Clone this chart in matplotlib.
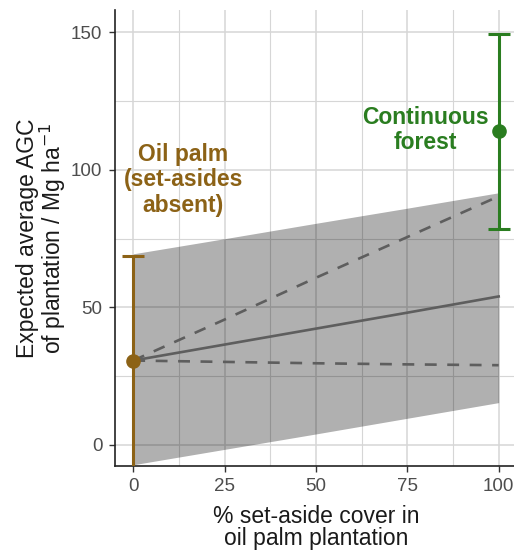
import numpy as np
import matplotlib
matplotlib.use("Agg")
import matplotlib.pyplot as plt
from matplotlib.ticker import MultipleLocator

plt.rcParams['font.family'] = ['Liberation Sans', 'DejaVu Sans']

# set-aside cover (%) and model predictions
setaside = [0, 25, 50, 75, 100]
pred_mean = [30.7, 36.5, 42.3, 48.1, 54.0]
pred_upper = [30.7, 45.6, 60.8, 75.6, 90.4]
pred_lower = [30.7, 30.2, 29.7, 29.3, 29.0]
ribbon_hi = [69.5, 75.0, 80.6, 86.1, 91.7]
ribbon_lo = [-7.2, -1.6, 4.0, 9.7, 15.4]

# reference points
palm_x, palm_y, palm_lo, palm_hi = 0, 30.7, -12, 68.8
forest_x, forest_y, forest_lo, forest_hi = 100, 114.2, 78.7, 149.5

brown = '#8C6216'
green = '#2A7D20'
grey_line = '#5E5E5E'

fig = plt.figure(figsize=(5.14, 5.5), dpi=100)
ax = fig.add_axes([0.2237, 0.153, 0.782, 0.829])

ax.fill_between(setaside, ribbon_lo, ribbon_hi, color='black', alpha=0.31,
                linewidth=0, zorder=2)
ax.plot(setaside, pred_mean, color=grey_line, lw=1.9, zorder=3)
ax.plot(setaside, pred_upper, color=grey_line, lw=1.9, ls=(0, (4.5, 4)), zorder=3)
ax.plot(setaside, pred_lower, color=grey_line, lw=1.9, ls=(0, (4.5, 4)), zorder=3)

ax.errorbar([palm_x], [palm_y], yerr=[[palm_y - palm_lo], [palm_hi - palm_y]],
            color=brown, fmt='o', ms=9.5, elinewidth=2.2, capsize=8, capthick=2.2,
            zorder=4)
ax.errorbar([forest_x], [forest_y], yerr=[[forest_y - forest_lo], [forest_hi - forest_y]],
            color=green, fmt='o', ms=9.5, elinewidth=2.2, capsize=8, capthick=2.2,
            zorder=4)

ax.text(13.7, 96.4, 'Oil palm\n(set-asides\nabsent)', color=brown, fontsize=16.5,
        fontweight='bold', ha='center', va='center', linespacing=1.15)
ax.text(80, 114.5, 'Continuous\nforest', color=green, fontsize=16.5,
        fontweight='bold', ha='center', va='center', linespacing=1.15)

ax.set_xlim(-5, 105)
ax.set_ylim(-7.6, 158.2)
ax.set_xticks([0, 25, 50, 75, 100])
ax.set_yticks([0, 50, 100, 150])
ax.xaxis.set_minor_locator(MultipleLocator(12.5))
ax.yaxis.set_minor_locator(MultipleLocator(25))
ax.grid(True, which='major', color='#d6d6d6', lw=1.1, zorder=0)
ax.grid(True, which='minor', color='#d6d6d6', lw=0.8, zorder=0)
ax.set_axisbelow(True)

for s in ['top', 'right']:
    ax.spines[s].set_visible(False)
for s in ['left', 'bottom']:
    ax.spines[s].set_color('#222222')
    ax.spines[s].set_linewidth(1.2)
ax.tick_params(which='major', length=4, width=1, color='#333333',
               labelsize=13.5, labelcolor='#4D4D4D', pad=5)
ax.tick_params(which='minor', length=0)

ax.set_xlabel('% set-aside cover in\noil palm plantation', fontsize=16.5,
              color='#1a1a1a', labelpad=7, linespacing=0.95)
ax.set_ylabel('Expected average AGC\nof plantation / Mg ha$^{-1}$', fontsize=16.5,
              color='#1a1a1a', labelpad=2, linespacing=0.95)

fig.savefig('out.png', dpi=100)
